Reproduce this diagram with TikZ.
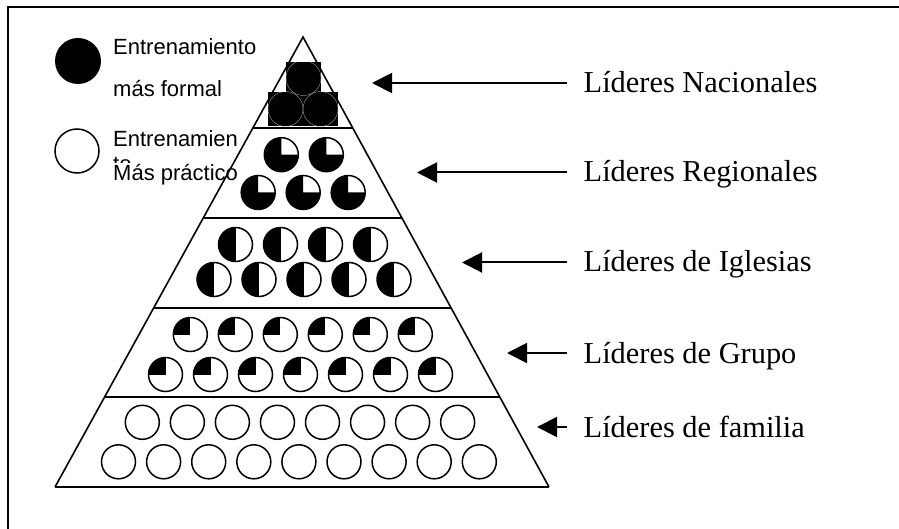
\documentclass[tikz,border=0pt]{standalone}
\usepackage{fontspec}
\setmainfont{Liberation Serif}
\newfontfamily\legfont{Liberation Sans}
\usetikzlibrary{arrows.meta,calc}
\begin{document}
\begin{tikzpicture}[x=1pt,y=-1pt,
  frameline/.style={line width=2.2pt},
  slopeline/.style={line width=1.6pt},
  tierline/.style={line width=2.6pt},
  disc/.style={circle, draw, line width=1.5pt, minimum size=34pt, inner sep=0pt},
  plaindisc/.style={disc},
  qtrdisc/.style={disc, path picture={\fill (path picture bounding box.center) -- (path picture bounding box.north) -- (path picture bounding box.north west) -- (path picture bounding box.west) -- cycle;}},
  halfdisc/.style={disc, path picture={\fill (path picture bounding box.south west) rectangle (path picture bounding box.north);}},
  tqdisc/.style={disc, path picture={\fill (path picture bounding box.center) -- (path picture bounding box.north) -- (path picture bounding box.north west) -- (path picture bounding box.south west) -- (path picture bounding box.south east) -- (path picture bounding box.east) -- cycle;}},
  ghost/.style={circle, draw=gray!75, line width=0.4pt, minimum size=35pt, inner sep=0pt},
  leglabel/.style={anchor=base west, inner sep=0pt, font=\legfont\fontsize{22}{26}\selectfont},
  levlabel/.style={anchor=base west, inner sep=0pt, font=\fontsize{30.4}{36}\selectfont},
  arr/.style={line width=2pt, -{Triangle[length=20pt,width=20pt]}}]
\useasboundingbox (0,0) rectangle (899,529);
% frame
\draw[frameline] (8,529) -- (8,7) -- (899,7);
% legend
\node[circle, fill=black, minimum size=46pt, inner sep=0pt] (lblack) at (78,61) {};
\node[circle, draw, line width=1.5pt, minimum size=44pt, inner sep=0pt] (lwhite) at (77,151) {};
\node[leglabel] (l1) at (113,55) {Entrenamiento};
\node[leglabel] (l2) at (113,97) {más formal};
\node[leglabel] (l3) at (113,147) {Entrenamien};
\begin{scope}
  \clip (100,150) rectangle (260,162.5);
  \node[leglabel] (l3b) at (113,172) {to};
\end{scope}
\node[leglabel] (l4) at (113,181) {Más práctico};
% pyramid
\coordinate (A) at (303,37);
\coordinate (BL) at (55,487);
\coordinate (BR) at (549,487);
\draw[slopeline] (BL) -- (A) -- (BR);
\draw[tierline] (BL) -- (BR);
\draw[tierline] ($(A)!0.2022!(BL)$) -- ($(A)!0.2022!(BR)$);
\draw[tierline] ($(A)!0.4022!(BL)$) -- ($(A)!0.4022!(BR)$);
\draw[tierline] ($(A)!0.6022!(BL)$) -- ($(A)!0.6022!(BR)$);
\draw[tierline] ($(A)!0.8!(BL)$) -- ($(A)!0.8!(BR)$);
% top tier: black discs with filled boxes
\fill (286,62) rectangle (321,92);
\fill (268,92) rectangle (338,126.5);
\begin{scope}
  \clip (286,62) rectangle (321,92) (268,92) rectangle (338,126.5);
  \node[ghost] (n1) at (303.5,78) {};
  \node[ghost] (n2) at (285.5,109) {};
  \node[ghost] (n3) at (320.5,109) {};
\end{scope}
% regionales
\node[tqdisc] (r1) at (281.3,154.7) {};
\node[tqdisc] (r2) at (326.3,154.7) {};
\node[tqdisc] (r3) at (258.2,192.5) {};
\node[tqdisc] (r4) at (303.2,192.5) {};
\node[tqdisc] (r5) at (348.2,192.5) {};
% iglesias
\foreach \i in {0,...,3} \node[halfdisc] (ia\i) at ({235.5+45*\i},244.5) {};
\foreach \i in {0,...,4} \node[halfdisc] (ib\i) at ({214+45*\i},279.5) {};
% grupo
\foreach \i in {0,...,5} \node[qtrdisc] (ga\i) at ({190.3+45*\i},334.5) {};
\foreach \i in {0,...,6} \node[qtrdisc] (gb\i) at ({165.5+45*\i},374.5) {};
% familia
\foreach \i in {0,...,7} \node[plaindisc] (fa\i) at ({142.3+45.05*\i},422.3) {};
\foreach \i in {0,...,8} \node[plaindisc] (fb\i) at ({118.5+45.1*\i},461.8) {};
% level labels and arrows
\node[levlabel] (t1) at (583.5,93) {Líderes Nacionales};
\node[levlabel] (t2) at (583.5,182) {Líderes Regionales};
\node[levlabel] (t3) at (583.5,272) {Líderes de Iglesias};
\node[levlabel] (t4) at (583.5,363) {Líderes de Grupo};
\node[levlabel] (t5) at (583.5,437) {Líderes de familia};
\coordinate (p1) at (372,83);
\coordinate (p2) at (417,172.5);
\coordinate (p3) at (462,262.5);
\coordinate (p4) at (507,353);
\coordinate (p5) at (537,427);
\coordinate (s1) at (567,83);
\coordinate (s2) at (567,172.5);
\coordinate (s3) at (567,262.5);
\coordinate (s4) at (567,353);
\coordinate (s5) at (567,427);
\draw[arr] (s1) -- (p1);
\draw[arr] (s2) -- (p2);
\draw[arr] (s3) -- (p3);
\draw[arr] (s4) -- (p4);
\draw[arr] (s5) -- (p5);
\end{tikzpicture}
\end{document}
